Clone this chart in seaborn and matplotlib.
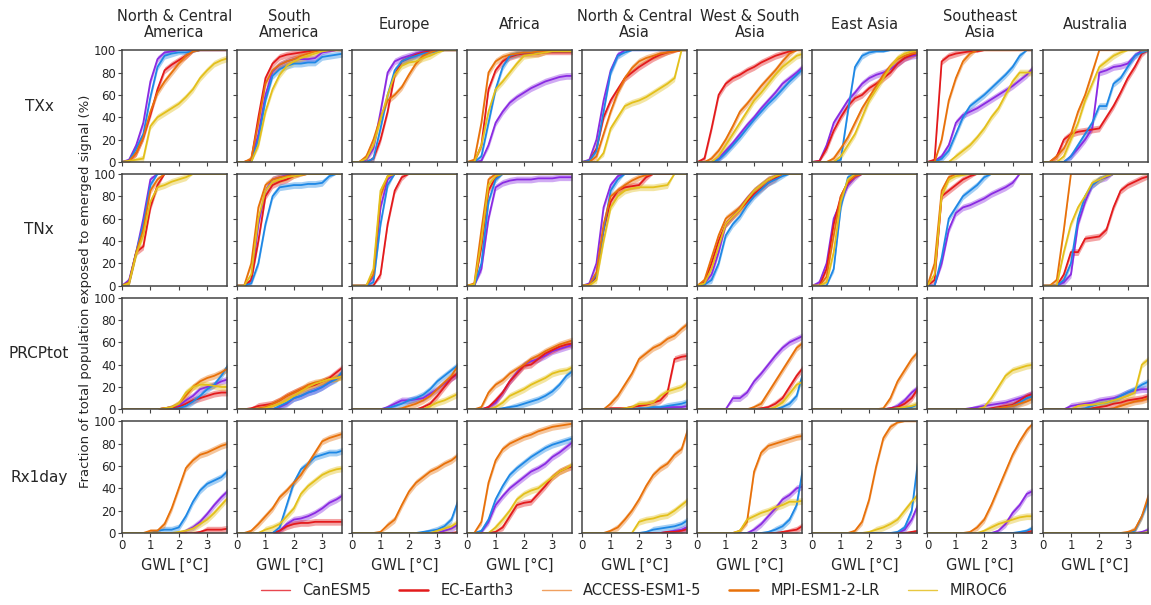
"""
Fraction of population exposed to emerged signal vs. GWL, per region and index.
"""
import numpy as np
import pandas as pd
import matplotlib
matplotlib.use("Agg")
import matplotlib.pyplot as plt
from matplotlib.lines import Line2D
import seaborn as sns

# GWL sample points (degC)
GWL = [0, 0.25, 0.5, 0.75, 1.0, 1.25, 1.5, 1.75, 2.0, 2.25, 2.5, 2.75, 3.0, 3.25, 3.5, 3.75]

REGIONS = ["North & Central\nAmerica", "South\nAmerica", "Europe", "Africa",
           "North & Central\nAsia", "West & South\nAsia", "East Asia",
           "Southeast\nAsia", "Australia"]
INDICES = ["TXx", "TNx", "PRCPtot", "Rx1day"]
MODELS = ["CanESM5", "EC-Earth3", "ACCESS-ESM1-5", "MPI-ESM1-2-LR", "MIROC6"]

# ---- TXx: one row per region, values in % ----
TXX_CAN = [
    [0, 2, 15, 35, 72, 92, 98, 99, 100, 100, 100, 100, 100, 100, 100, 100],
    [0, 0, 1, 25, 60, 81, 87, 90, 92, 92, 92, 93, 98, 99, 100, 100],
    [0, 0, 2, 12, 45, 80, 90, 93, 95, 97, 99, 100, 100, 100, 100, 100],
    [0, 0, 1, 15, 35, 45, 53, 58, 62, 66, 69, 72, 74, 76, 77, 77],
    [0, 2, 20, 55, 82, 96, 100, 100, 100, 100, 100, 100, 100, 100, 100, 100],
    [0, 0, 0, 3, 10, 17, 25, 33, 40, 48, 55, 62, 70, 75, 80, 86],
    [0, 1, 15, 35, 45, 55, 62, 70, 75, 78, 80, 83, 88, 93, 95, 96],
    [0, 1, 5, 15, 35, 42, 45, 48, 52, 56, 60, 64, 68, 73, 78, 85],
    [0, 0, 0, 0, 5, 12, 20, 30, 80, 82, 85, 86, 88, 95, 100, 100],
]
TXX_ECE = [
    [0, 1, 8, 22, 42, 65, 82, 87, 91, 95, 99, 100, 100, 100, 100, 100],
    [0, 0, 2, 40, 75, 88, 94, 96, 97, 98, 99, 100, 100, 100, 100, 100],
    [0, 0, 0, 3, 20, 45, 78, 90, 93, 96, 98, 99, 100, 100, 100, 100],
    [0, 0, 15, 65, 82, 90, 94, 96, 97, 97, 97, 98, 98, 98, 98, 98],
    [0, 1, 12, 40, 55, 65, 75, 80, 85, 89, 93, 96, 98, 99, 100, 100],
    [0, 3, 30, 60, 70, 75, 78, 82, 85, 89, 92, 95, 97, 99, 100, 100],
    [0, 1, 12, 28, 40, 50, 57, 60, 66, 70, 75, 80, 88, 93, 96, 98],
    [0, 2, 90, 95, 97, 98, 99, 99, 100, 100, 100, 100, 100, 100, 100, 100],
    [0, 0, 5, 20, 25, 27, 28, 29, 30, 40, 50, 62, 75, 85, 97, 100],
]
TXX_ACC = [
    [0, 1, 12, 25, 58, 85, 95, 97, 98, 98, 99, 100, 100, 100, 100, 100],
    [0, 0, 0, 20, 55, 77, 83, 86, 88, 88, 89, 89, 94, 95, 96, 97],
    [0, 0, 0, 3, 30, 60, 82, 90, 93, 95, 97, 98, 99, 100, 100, 100],
    [0, 0, 5, 35, 65, 85, 95, 97, 98, 98, 99, 99, 99, 99, 99, 99],
    [0, 1, 10, 45, 80, 95, 98, 100, 100, 100, 100, 100, 100, 100, 100, 100],
    [0, 0, 0, 2, 8, 15, 22, 30, 38, 45, 52, 58, 65, 72, 78, 84],
    [0, 0, 0, 0, 2, 45, 85, 95, 98, 99, 99, 100, 100, 100, 100, 100],
    [0, 0, 3, 10, 25, 40, 50, 55, 60, 66, 72, 78, 85, 95, 100, 100],
    [0, 0, 0, 0, 5, 15, 25, 35, 50, 50, 70, 75, 85, 95, 98, 100],
]
TXX_MPI = [
    [0, 1, 8, 22, 45, 62, 72, 80, 88, 95, 99, 100, 100, 100, 100, 100],
    [0, 0, 3, 35, 70, 82, 87, 90, 92, 95, 97, 99, 100, 100, 100, 100],
    [0, 0, 5, 20, 40, 55, 60, 67, 78, 88, 95, 98, 100, 100, 100, 100],
    [0, 2, 35, 80, 90, 94, 96, 97, 98, 98, 99, 99, 100, 100, 100, 100],
    [0, 0, 5, 25, 45, 62, 75, 84, 90, 93, 95, 97, 98, 99, 100, 100],
    [0, 0, 3, 10, 20, 32, 45, 52, 60, 68, 75, 82, 90, 97, 100, 100],
    [0, 0, 0, 3, 12, 22, 35, 48, 58, 68, 78, 86, 92, 95, 97, 98],
    [0, 0, 20, 55, 75, 90, 97, 100, 100, 100, 100, 100, 100, 100, 100, 100],
    [0, 0, 5, 12, 25, 45, 60, 80, 100, 100, 100, 100, 100, 100, 100, 100],
]
TXX_MIR = [
    [0, 1, 2, 3, 32, 40, 44, 48, 52, 58, 65, 75, 82, 88, 91, 93],
    [0, 0, 0, 15, 45, 65, 78, 86, 90, 93, 95, 97, 99, 100, 100, 100],
    [0, 0, 3, 15, 38, 60, 78, 86, 89, 90, 93, 95, 98, 100, 100, 100],
    [0, 0, 15, 45, 65, 72, 80, 88, 95, 96, 97, 98, 99, 99, 99, 99],
    [0, 0, 0, 8, 30, 40, 50, 53, 55, 58, 62, 66, 70, 75, 100, 100],
    [0, 0, 0, 5, 15, 25, 35, 45, 55, 62, 70, 78, 85, 90, 95, 97],
    [0, 0, 0, 0, 5, 15, 25, 40, 55, 65, 75, 85, 93, 97, 99, 100],
    [0, 0, 0, 0, 5, 10, 15, 22, 30, 40, 48, 60, 72, 80, 80, 80],
    [0, 0, 0, 5, 20, 35, 55, 70, 85, 90, 95, 98, 100, 100, 100, 100],
]

# ---- TNx ----
TNX_CAN = [
    [0, 5, 30, 60, 95, 100, 100, 100, 100, 100, 100, 100, 100, 100, 100, 100],
    [0, 0, 5, 55, 85, 95, 97, 99, 100, 100, 100, 100, 100, 100, 100, 100],
    [0, 0, 0, 8, 70, 95, 100, 100, 100, 100, 100, 100, 100, 100, 100, 100],
    [0, 0, 15, 60, 88, 92, 94, 95, 95, 95, 96, 96, 96, 97, 97, 97],
    [0, 2, 20, 70, 90, 98, 100, 100, 100, 100, 100, 100, 100, 100, 100, 100],
    [0, 2, 10, 30, 55, 62, 70, 78, 85, 90, 95, 98, 100, 100, 100, 100],
    [0, 3, 20, 60, 75, 90, 97, 100, 100, 100, 100, 100, 100, 100, 100, 100],
    [0, 0, 20, 50, 65, 70, 72, 75, 78, 82, 85, 88, 92, 100, 100, 100],
    [0, 0, 0, 3, 10, 55, 75, 90, 95, 97, 100, 100, 100, 100, 100, 100],
]
TNX_ECE = [
    [0, 3, 30, 35, 70, 90, 100, 100, 100, 100, 100, 100, 100, 100, 100, 100],
    [0, 0, 5, 40, 80, 90, 93, 95, 98, 99, 100, 100, 100, 100, 100, 100],
    [0, 0, 0, 0, 10, 55, 85, 97, 100, 100, 100, 100, 100, 100, 100, 100],
    [0, 0, 35, 85, 97, 100, 100, 100, 100, 100, 100, 100, 100, 100, 100, 100],
    [0, 1, 8, 50, 75, 85, 88, 89, 90, 97, 100, 100, 100, 100, 100, 100],
    [0, 3, 20, 40, 55, 62, 68, 75, 82, 87, 92, 96, 100, 100, 100, 100],
    [0, 0, 15, 55, 80, 92, 98, 100, 100, 100, 100, 100, 100, 100, 100, 100],
    [0, 5, 80, 85, 90, 95, 98, 100, 100, 100, 100, 100, 100, 100, 100, 100],
    [0, 0, 0, 10, 30, 30, 42, 43, 44, 50, 70, 85, 90, 93, 96, 98],
]
TNX_ACC = [
    [0, 3, 30, 55, 90, 100, 100, 100, 100, 100, 100, 100, 100, 100, 100, 100],
    [0, 0, 2, 20, 55, 80, 88, 89, 90, 90, 91, 91, 92, 98, 100, 100],
    [0, 0, 0, 3, 55, 90, 100, 100, 100, 100, 100, 100, 100, 100, 100, 100],
    [0, 0, 20, 75, 95, 100, 100, 100, 100, 100, 100, 100, 100, 100, 100, 100],
    [0, 1, 10, 50, 85, 95, 100, 100, 100, 100, 100, 100, 100, 100, 100, 100],
    [0, 1, 5, 20, 45, 55, 62, 72, 80, 86, 92, 95, 98, 100, 100, 100],
    [0, 0, 0, 15, 70, 97, 100, 100, 100, 100, 100, 100, 100, 100, 100, 100],
    [0, 0, 25, 60, 70, 80, 85, 90, 97, 100, 100, 100, 100, 100, 100, 100],
    [0, 0, 0, 5, 20, 60, 80, 90, 95, 98, 100, 100, 100, 100, 100, 100],
]
TNX_MPI = [
    [0, 3, 30, 50, 85, 95, 100, 100, 100, 100, 100, 100, 100, 100, 100, 100],
    [0, 0, 20, 70, 90, 95, 97, 98, 100, 100, 100, 100, 100, 100, 100, 100],
    [0, 0, 0, 10, 80, 98, 100, 100, 100, 100, 100, 100, 100, 100, 100, 100],
    [0, 2, 50, 95, 100, 100, 100, 100, 100, 100, 100, 100, 100, 100, 100, 100],
    [0, 1, 12, 55, 80, 85, 90, 94, 97, 99, 100, 100, 100, 100, 100, 100],
    [0, 5, 25, 45, 60, 65, 70, 78, 85, 90, 95, 98, 100, 100, 100, 100],
    [0, 0, 8, 45, 80, 93, 98, 100, 100, 100, 100, 100, 100, 100, 100, 100],
    [0, 20, 85, 97, 100, 100, 100, 100, 100, 100, 100, 100, 100, 100, 100, 100],
    [0, 0, 5, 50, 100, 100, 100, 100, 100, 100, 100, 100, 100, 100, 100, 100],
]
TNX_MIR = [
    [0, 2, 28, 45, 75, 88, 90, 93, 95, 97, 100, 100, 100, 100, 100, 100],
    [0, 0, 10, 60, 85, 93, 95, 97, 98, 99, 100, 100, 100, 100, 100, 100],
    [0, 0, 0, 15, 85, 98, 100, 100, 100, 100, 100, 100, 100, 100, 100, 100],
    [0, 1, 40, 90, 98, 100, 100, 100, 100, 100, 100, 100, 100, 100, 100, 100],
    [0, 0, 5, 40, 70, 80, 85, 87, 88, 88, 88, 89, 90, 100, 100, 100],
    [0, 2, 15, 35, 55, 62, 68, 77, 85, 90, 95, 98, 100, 100, 100, 100],
    [0, 0, 3, 30, 75, 95, 100, 100, 100, 100, 100, 100, 100, 100, 100, 100],
    [0, 10, 80, 95, 98, 99, 100, 100, 100, 100, 100, 100, 100, 100, 100, 100],
    [0, 0, 0, 30, 55, 70, 80, 92, 95, 98, 100, 100, 100, 100, 100, 100],
]

# ---- PRCPtot ----
PRC_CAN = [
    [0, 0, 0, 0, 0, 0, 1, 2, 3, 8, 12, 18, 20, 22, 25, 27],
    [0, 0, 0, 0, 0, 0, 2, 5, 10, 12, 15, 17, 20, 24, 28, 32],
    [0, 0, 0, 0, 0, 2, 5, 8, 8, 9, 10, 14, 18, 23, 28, 32],
    [0, 0, 0, 2, 6, 15, 25, 33, 40, 43, 45, 48, 52, 54, 56, 58],
    [0, 0, 0, 0, 0, 0, 0, 0, 0, 0, 1, 1, 2, 2, 2, 3],
    [0, 0, 0, 0, 0, 10, 10, 15, 25, 32, 40, 48, 55, 60, 63, 66],
    [0, 0, 0, 0, 0, 0, 0, 0, 0, 0, 0, 1, 3, 8, 15, 20],
    [0, 0, 0, 0, 0, 0, 1, 2, 3, 4, 5, 6, 8, 10, 12, 15],
    [0, 0, 0, 0, 3, 4, 5, 6, 8, 9, 10, 12, 15, 17, 18, 18],
]
PRC_ECE = [
    [0, 0, 0, 0, 0, 0, 1, 1, 2, 5, 8, 10, 12, 14, 15, 15],
    [0, 0, 1, 3, 4, 5, 8, 12, 15, 18, 20, 22, 25, 28, 33, 38],
    [0, 0, 0, 0, 0, 0, 0, 0, 0, 0, 2, 5, 12, 20, 28, 33],
    [0, 0, 0, 2, 8, 15, 25, 32, 39, 40, 45, 50, 53, 56, 58, 59],
    [0, 0, 0, 0, 1, 1, 1, 2, 3, 4, 6, 8, 15, 45, 47, 48],
    [0, 0, 0, 0, 0, 0, 0, 0, 0, 1, 2, 5, 10, 20, 30, 38],
    [0, 0, 0, 0, 0, 0, 0, 0, 0, 0, 0, 1, 2, 5, 10, 20],
    [0, 0, 0, 0, 0, 0, 0, 0, 0, 1, 2, 3, 4, 8, 12, 14],
    [0, 0, 0, 0, 0, 0, 0, 1, 2, 3, 5, 6, 8, 9, 10, 12],
]
PRC_ACC = [
    [0, 0, 0, 0, 0, 0, 0, 0, 1, 3, 7, 12, 18, 22, 30, 40],
    [0, 0, 0, 0, 0, 0, 3, 6, 10, 12, 15, 17, 20, 24, 27, 35],
    [0, 0, 0, 0, 0, 1, 3, 5, 8, 10, 13, 18, 25, 30, 35, 40],
    [0, 0, 0, 0, 0, 1, 2, 3, 5, 7, 9, 12, 16, 22, 30, 35],
    [0, 0, 0, 0, 0, 0, 0, 0, 1, 1, 2, 2, 3, 4, 5, 7],
    [0, 0, 0, 0, 0, 0, 0, 0, 0, 0, 0, 0, 2, 5, 12, 35],
    [0, 0, 0, 0, 0, 0, 0, 0, 0, 0, 0, 0, 1, 1, 2, 5],
    [0, 0, 0, 0, 0, 0, 0, 0, 0, 0, 1, 2, 3, 6, 10, 12],
    [0, 0, 0, 0, 0, 0, 1, 3, 5, 6, 8, 12, 15, 18, 22, 25],
]
PRC_MPI = [
    [0, 0, 0, 0, 0, 0, 1, 2, 5, 12, 20, 25, 28, 30, 33, 37],
    [0, 0, 0, 1, 2, 5, 8, 12, 15, 18, 22, 24, 25, 27, 28, 30],
    [0, 0, 0, 0, 0, 0, 0, 1, 3, 5, 8, 12, 18, 24, 30, 40],
    [0, 0, 2, 15, 22, 26, 32, 36, 40, 45, 48, 52, 55, 58, 60, 62],
    [0, 0, 0, 0, 5, 12, 22, 32, 45, 50, 55, 58, 63, 66, 72, 77],
    [0, 0, 0, 0, 0, 0, 0, 0, 2, 5, 15, 25, 35, 45, 55, 60],
    [0, 0, 0, 0, 0, 0, 0, 0, 0, 0, 1, 10, 25, 35, 45, 52],
    [0, 0, 0, 0, 0, 0, 0, 0, 0, 0, 1, 2, 3, 5, 7, 10],
    [0, 0, 0, 0, 0, 0, 0, 0, 0, 0, 1, 3, 5, 7, 8, 10],
]
PRC_MIR = [
    [0, 0, 0, 0, 0, 0, 1, 2, 5, 15, 20, 22, 22, 21, 20, 20],
    [0, 0, 0, 0, 1, 3, 5, 8, 12, 16, 20, 23, 25, 27, 28, 30],
    [0, 0, 0, 0, 0, 0, 0, 0, 0, 0, 0, 3, 6, 8, 11, 14],
    [0, 0, 0, 0, 2, 6, 12, 15, 18, 22, 25, 28, 32, 34, 35, 38],
    [0, 0, 0, 0, 0, 0, 1, 2, 5, 5, 6, 12, 16, 18, 20, 25],
    [0, 0, 0, 0, 0, 0, 0, 0, 0, 0, 0, 2, 6, 14, 22, 25],
    [0, 0, 0, 0, 0, 0, 0, 0, 0, 0, 0, 0, 1, 2, 3, 5],
    [0, 0, 0, 0, 0, 0, 0, 0, 2, 10, 20, 30, 35, 37, 39, 40],
    [0, 0, 0, 0, 0, 3, 4, 4, 5, 6, 8, 10, 12, 15, 40, 45],
]

# ---- Rx1day ----
RX1_CAN = [
    [0, 0, 0, 0, 0, 0, 0, 0, 0, 2, 5, 10, 17, 25, 32, 38],
    [0, 0, 0, 0, 0, 0, 2, 8, 12, 13, 15, 18, 22, 27, 30, 34],
    [0, 0, 0, 0, 0, 0, 0, 0, 0, 0, 0, 0, 0, 2, 4, 8],
    [0, 0, 1, 10, 25, 33, 40, 45, 50, 55, 58, 62, 68, 72, 77, 82],
    [0, 0, 0, 0, 0, 0, 0, 0, 0, 0, 0, 0, 1, 2, 3, 6],
    [0, 0, 0, 0, 0, 0, 0, 0, 3, 8, 15, 22, 30, 34, 40, 42],
    [0, 0, 0, 0, 0, 0, 0, 0, 0, 0, 0, 0, 0, 3, 12, 27],
    [0, 0, 0, 0, 0, 0, 0, 0, 0, 0, 2, 8, 18, 25, 35, 38],
    [0, 0, 0, 0, 0, 0, 0, 0, 0, 0, 0, 0, 0, 0, 1, 3],
]
RX1_ECE = [
    [0, 0, 0, 0, 0, 0, 0, 0, 0, 0, 0, 1, 3, 3, 3, 4],
    [0, 0, 0, 0, 0, 0, 2, 6, 8, 9, 9, 10, 10, 10, 10, 10],
    [0, 0, 0, 0, 0, 0, 0, 0, 0, 0, 0, 0, 0, 0, 0, 1],
    [0, 0, 0, 0, 1, 5, 15, 25, 27, 28, 35, 42, 50, 55, 58, 60],
    [0, 0, 0, 0, 0, 0, 0, 0, 0, 0, 0, 0, 1, 1, 2, 4],
    [0, 0, 0, 0, 0, 0, 0, 0, 0, 0, 0, 0, 1, 2, 3, 7],
    [0, 0, 0, 0, 0, 0, 0, 0, 0, 0, 0, 0, 0, 0, 1, 2],
    [0, 0, 0, 0, 0, 0, 0, 0, 0, 0, 0, 0, 0, 0, 1, 2],
    [0, 0, 0, 0, 0, 0, 0, 0, 0, 0, 0, 0, 0, 0, 0, 0],
]
RX1_ACC = [
    [0, 0, 0, 0, 0, 2, 3, 3, 5, 15, 28, 38, 44, 47, 50, 56],
    [0, 0, 0, 0, 0, 0, 5, 25, 45, 57, 62, 68, 70, 72, 72, 74],
    [0, 0, 0, 0, 0, 0, 0, 0, 0, 0, 1, 2, 3, 6, 12, 30],
    [0, 0, 2, 12, 30, 42, 52, 58, 63, 68, 72, 76, 79, 81, 83, 85],
    [0, 0, 0, 0, 0, 0, 0, 0, 0, 1, 3, 4, 5, 6, 8, 12],
    [0, 0, 0, 0, 0, 0, 0, 0, 0, 0, 1, 3, 6, 12, 25, 62],
    [0, 0, 0, 0, 0, 0, 0, 0, 0, 0, 0, 0, 1, 5, 20, 70],
    [0, 0, 0, 0, 0, 0, 0, 0, 0, 0, 0, 0, 0, 1, 2, 5],
    [0, 0, 0, 0, 0, 0, 0, 0, 0, 0, 0, 0, 0, 2, 15, 30],
]
RX1_MPI = [
    [0, 0, 0, 0, 2, 2, 8, 22, 40, 58, 65, 70, 72, 75, 78, 80],
    [0, 0, 2, 8, 15, 22, 32, 38, 45, 52, 62, 72, 82, 85, 87, 89],
    [0, 0, 0, 0, 1, 7, 12, 25, 37, 45, 50, 55, 58, 62, 65, 70],
    [0, 0, 10, 45, 65, 75, 80, 83, 86, 88, 91, 93, 95, 96, 97, 98],
    [0, 0, 0, 0, 2, 5, 12, 20, 30, 42, 52, 58, 62, 70, 75, 95],
    [0, 0, 0, 0, 0, 0, 2, 10, 55, 72, 78, 80, 82, 84, 86, 87],
    [0, 0, 0, 0, 0, 0, 2, 10, 30, 60, 85, 95, 99, 100, 100, 100],
    [0, 0, 0, 0, 0, 0, 1, 5, 12, 25, 40, 55, 70, 82, 92, 99],
    [0, 0, 0, 0, 0, 0, 0, 0, 0, 0, 0, 0, 1, 3, 15, 35],
]
RX1_MIR = [
    [0, 0, 0, 0, 0, 0, 0, 0, 1, 2, 4, 8, 12, 18, 25, 32],
    [0, 0, 0, 0, 3, 5, 8, 15, 22, 35, 42, 47, 52, 55, 57, 58],
    [0, 0, 0, 0, 0, 0, 0, 0, 0, 0, 0, 0, 2, 4, 6, 10],
    [0, 0, 0, 0, 5, 12, 20, 30, 35, 38, 40, 45, 50, 55, 58, 62],
    [0, 0, 0, 0, 0, 0, 0, 0, 10, 12, 13, 15, 16, 20, 25, 30],
    [0, 0, 0, 0, 0, 0, 2, 12, 15, 18, 20, 23, 25, 28, 28, 29],
    [0, 0, 0, 0, 0, 0, 0, 0, 1, 3, 5, 8, 12, 20, 28, 35],
    [0, 0, 0, 0, 0, 0, 0, 0, 2, 5, 8, 10, 12, 14, 15, 15],
    [0, 0, 0, 0, 0, 0, 0, 0, 0, 0, 0, 0, 0, 0, 0, 1],
]

# half-width of the ensemble spread band (% points), per index and model
SPREAD_TXX = [3, 3, 3, 3, 3]
SPREAD_TNX = [3, 3, 3, 3, 3]
SPREAD_PRC = [3, 3, 3, 3, 3]
SPREAD_RX1 = [3, 3, 3, 3, 3]

LINE_COLORS = ["#8a2be2", "#e31a1c", "#1e88e5", "#e8710a", "#e3c01b"]
LEGEND_COLORS = ["#e8474f", "#e31a1c", "#f0a060", "#e8710a", "#e8c840"]
LEGEND_WIDTHS = [1.0, 1.8, 1.0, 1.8, 1.0]

DATA = {
    "TXx": [TXX_CAN, TXX_ECE, TXX_ACC, TXX_MPI, TXX_MIR],
    "TNx": [TNX_CAN, TNX_ECE, TNX_ACC, TNX_MPI, TNX_MIR],
    "PRCPtot": [PRC_CAN, PRC_ECE, PRC_ACC, PRC_MPI, PRC_MIR],
    "Rx1day": [RX1_CAN, RX1_ECE, RX1_ACC, RX1_MPI, RX1_MIR],
}
SPREAD = {"TXx": SPREAD_TXX, "TNx": SPREAD_TNX, "PRCPtot": SPREAD_PRC, "Rx1day": SPREAD_RX1}

sns.set_theme(style="white")
plt.rcParams["font.family"] = ["DejaVu Sans"]

fig, axes = plt.subplots(4, 9, figsize=(11.51, 6.05), dpi=100, sharex=True, sharey=True)
fig.subplots_adjust(left=0.106, right=0.997, top=0.917, bottom=0.119,
                    wspace=0.096, hspace=0.107)

palette = dict(zip(MODELS, LINE_COLORS))
gwl = np.array(GWL)

for i, idx in enumerate(INDICES):
    for j, region in enumerate(REGIONS):
        ax = axes[i, j]
        rows = []
        for k, model in enumerate(MODELS):
            vals = np.array(DATA[idx][k][j], dtype=float)
            hw = np.minimum(SPREAD[idx][k], np.minimum(vals, 100 - vals))
            ax.fill_between(gwl, vals - hw, vals + hw, color=LINE_COLORS[k],
                            alpha=0.4, linewidth=0)
            rows.append(pd.DataFrame({"gwl": gwl, "value": vals, "model": model}))
        df = pd.concat(rows, ignore_index=True)
        sns.lineplot(data=df, x="gwl", y="value", hue="model", hue_order=MODELS,
                     palette=palette, linewidth=1.3, legend=False, ax=ax)
        ax.set_xlim(0, 3.7)
        ax.set_ylim(0, 100)
        ax.set_xticks([0, 1, 2, 3])
        ax.set_yticks([0, 20, 40, 60, 80, 100])
        ax.set_xlabel("")
        ax.set_ylabel("")
        ax.tick_params(axis="both", which="both", bottom=True, left=True,
                       length=3, width=0.8, color="#444444", labelsize=8.5, pad=1.5)
        for sp in ax.spines.values():
            sp.set_color("#444444")
            sp.set_linewidth(1.1)
        if i == 0:
            ax.text(0.5, 1.232, region, ha="center", va="center",
                    transform=ax.transAxes, fontsize=10.5, linespacing=1.1)
        if i == 3:
            ax.set_xlabel("GWL [°C]", fontsize=10.5, labelpad=4)
    # index name on the left of each row
    pos = axes[i, 0].get_position()
    fig.text(0.034, (pos.y0 + pos.y1) / 2, idx, ha="center", va="center", fontsize=11)

fig.text(0.074, 0.519, "Fraction of total population exposed to emerged signal (%)",
         rotation=90, ha="center", va="center", fontsize=9.5)

handles = [Line2D([], [], color=c, lw=w) for c, w in zip(LEGEND_COLORS, LEGEND_WIDTHS)]
fig.legend(handles, MODELS, loc="center", bbox_to_anchor=(0.551, 0.024), ncol=5,
           frameon=False, fontsize=10.5, handlelength=2.0, handletextpad=0.85,
           columnspacing=1.9)

fig.savefig("out.png", dpi=100)
